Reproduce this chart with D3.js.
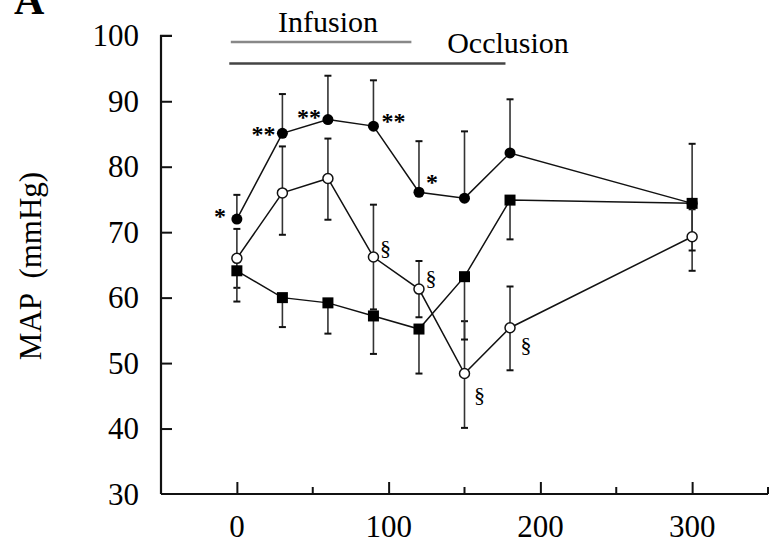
<!DOCTYPE html>
<html>
<head>
<meta charset="utf-8">
<script src="https://cdn.jsdelivr.net/npm/d3@7"></script>
<style>
  body { margin: 0; background: #fff; }
  svg { display: block; font-family: "Liberation Serif", "DejaVu Serif", serif; }
  .axis path, .axis line { stroke: #111; }
</style>
</head>
<body>
<svg id="chart" width="770" height="546"></svg>
<script>
"use strict";

// minutes
var times = [0, 30, 60, 90, 120, 150, 180, 300];

// filled circles (error bars drawn upward only)
var filledMean  = [72.0, 85.1, 87.2, 86.2, 76.1, 75.2, 82.1, 74.4];
var filledUpper = [75.7, 91.1, 93.9, 93.2, 83.9, 85.4, 90.3, 83.5];

// open circles
var openMean  = [66.0, 76.0, 78.2, 66.2, 61.3, 48.4, 55.4, 69.3];
var openUpper = [70.5, 83.1, 84.3, 74.2, 65.6, 56.4, 61.7, 73.5];
var openLower = [61.5, 69.6, 71.9, 58.2, 57.0, 40.1, 48.9, 64.1];

// filled squares (error bars drawn downward only)
var squareMean  = [64.1, 60.0, 59.2, 57.2, 55.2, 63.2, 74.9, 74.4];
var squareLower = [59.4, 55.5, 54.5, 51.4, 48.4, 53.6, 68.9, 67.2];

var yTicks = [30, 40, 50, 60, 70, 80, 90, 100];
var xMajorTicks = [0, 100, 200, 300];
var xMinorTicks = [50, 150, 250, 350];

// significance marks: index into times, mark text
var starIdx   = [0, 1, 2, 3, 4];
var starText  = ["*", "**", "**", "**", "*"];
var sectIdx   = [3, 4, 5, 6];

// protocol bars (start, end in minutes)
var infusionSpan  = [-4, 115];
var occlusionSpan = [-5, 177];

var d3 = window.d3;
var svg = d3.select('#chart');

const dims = {x0: 161, x1: 768, y0: 494, y1: 35.8};

var x = d3.scaleLinear().domain([-50, 350]).range([dims.x0, dims.x1]);
var y = d3.scaleLinear().domain([30, 100]).range([dims.y0, dims.y1]);

// panel letter (cropped at the top in the original figure)
svg.append('text')
    .attr('x', 14).attr('y', 14)
    .attr('font-size', 42).attr('font-weight', 'bold')
    .text('A');

// y axis
var gy = svg.append('g').classed('axis', true)
    .attr('transform', 'translate(' + dims.x0 + ',0)')
    .call(d3.axisRight(y).tickValues(yTicks).tickSize(11).tickFormat(''));
gy.select('.domain').attr('stroke-width', 2.2)
    .attr('d', 'M0,' + dims.y0 + 'V' + y(100) + 'H11');
gy.selectAll('.tick line').attr('stroke-width', 2);
gy.selectAll('.tick').filter(d => d === 30 || d === 100).select('line').remove();

svg.append('g').selectAll('text')
    .data(yTicks).enter()
    .append('text')
      .attr('x', 139)
      .attr('y', d => y(d))
      .attr('dy', '0.34em')
      .attr('text-anchor', 'end')
      .attr('font-size', 31)
      .text(d => d);

// x axis
var gx = svg.append('g').classed('axis', true)
    .attr('transform', 'translate(0,' + dims.y0 + ')')
    .call(d3.axisTop(x).tickValues(xMajorTicks).tickSize(12).tickFormat(''));
gx.select('.domain').attr('stroke-width', 2.2)
    .attr('d', 'M' + dims.x0 + ',0H' + dims.x1);
gx.selectAll('.tick line').attr('stroke-width', 2);

svg.append('g').selectAll('line')
    .data(xMinorTicks).enter()
    .append('line')
      .attr('x1', d => x(d)).attr('x2', d => x(d))
      .attr('y1', dims.y0).attr('y2', dims.y0 - 7)
      .attr('stroke', '#111').attr('stroke-width', 2);

svg.append('g').selectAll('text')
    .data(xMajorTicks).enter()
    .append('text')
      .attr('x', d => x(d))
      .attr('y', 537)
      .attr('text-anchor', 'middle')
      .attr('font-size', 31)
      .text(d => d);

// y axis title
svg.append('text')
    .attr('transform', 'translate(41,266) rotate(-90)')
    .attr('text-anchor', 'middle')
    .attr('font-size', 31)
    .attr('xml:space', 'preserve')
    .style('white-space', 'pre')
    .text('MAP  (mmHg)');

// protocol bars
svg.append('line')
    .attr('x1', x(infusionSpan[0])).attr('x2', x(infusionSpan[1]))
    .attr('y1', 42).attr('y2', 42)
    .attr('stroke', '#888').attr('stroke-width', 2.5);
svg.append('text')
    .attr('x', 328).attr('y', 32)
    .attr('text-anchor', 'middle').attr('font-size', 30)
    .text('Infusion');
svg.append('line')
    .attr('x1', x(occlusionSpan[0])).attr('x2', x(occlusionSpan[1]))
    .attr('y1', 63.5).attr('y2', 63.5)
    .attr('stroke', '#444').attr('stroke-width', 2.5);
svg.append('text')
    .attr('x', 508).attr('y', 53)
    .attr('text-anchor', 'middle').attr('font-size', 30)
    .text('Occlusion');

// error bars
var errGroup = svg.append('g');
function errBars(means, ends) {
    var rows = times.map((t, i) => ({t: t, m: means[i], e: ends[i]}));
    errGroup.selectAll(null)
        .data(rows).enter()
        .append('line')
          .attr('x1', d => x(d.t)).attr('x2', d => x(d.t))
          .attr('y1', d => y(d.m)).attr('y2', d => y(d.e))
          .attr('stroke', '#333').attr('stroke-width', 1.6);
    errGroup.selectAll(null)
        .data(rows).enter()
        .append('line')
          .attr('x1', d => x(d.t) - 3.5).attr('x2', d => x(d.t) + 3.5)
          .attr('y1', d => y(d.e)).attr('y2', d => y(d.e))
          .attr('stroke', '#111').attr('stroke-width', 2);
}
errBars(filledMean, filledUpper);
errBars(openMean, openUpper);
errBars(openMean, openLower);
errBars(squareMean, squareLower);

// lines
var line = d3.line().x(d => x(d[0])).y(d => y(d[1]));
[filledMean, openMean, squareMean].forEach(vals => {
    svg.append('path')
        .datum(times.map((t, i) => [t, vals[i]]))
        .attr('d', line)
        .attr('fill', 'none')
        .attr('stroke', '#111')
        .attr('stroke-width', 1.5);
});

// markers
svg.append('g').selectAll('rect')
    .data(times.map((t, i) => [t, squareMean[i]])).enter()
    .append('rect')
      .attr('x', d => x(d[0]) - 5.5).attr('y', d => y(d[1]) - 5.5)
      .attr('width', 11).attr('height', 11)
      .attr('fill', '#000');
svg.append('g').selectAll('circle')
    .data(times.map((t, i) => [t, filledMean[i]])).enter()
    .append('circle')
      .attr('cx', d => x(d[0])).attr('cy', d => y(d[1]))
      .attr('r', 5.5).attr('fill', '#000');
svg.append('g').selectAll('circle')
    .data(times.map((t, i) => [t, openMean[i]])).enter()
    .append('circle')
      .attr('cx', d => x(d[0])).attr('cy', d => y(d[1]))
      .attr('r', 5).attr('fill', '#fff')
      .attr('stroke', '#111').attr('stroke-width', 1.5);

// significance marks (* on filled circles, § on open circles)
// offsets are in pixels from the marker; negative dx = text to the left
var starOffsets = [[-11, -9], [-7, -5], [-7, -9], [8, -11], [7, -16]];
svg.append('g').selectAll('text')
    .data(starIdx).enter()
    .append('text')
      .attr('x', (d, i) => x(times[d]) + starOffsets[i][0])
      .attr('y', (d, i) => y(filledMean[d]) + starOffsets[i][1] + 14)
      .attr('text-anchor', (d, i) => starOffsets[i][0] < 0 ? 'end' : 'start')
      .attr('font-size', 24)
      .attr('font-weight', 'bold')
      .text((d, i) => starText[i]);

var sectOffsets = [[12, -10], [12, -12], [15, 21], [16, 17]];
svg.append('g').selectAll('text')
    .data(sectIdx).enter()
    .append('text')
      .attr('x', (d, i) => x(times[d]) + sectOffsets[i][0])
      .attr('y', (d, i) => y(openMean[d]) + sectOffsets[i][1])
      .attr('dy', '0.35em')
      .attr('text-anchor', 'middle')
      .attr('font-size', 22)
      .text('§');
</script>
</body>
</html>
